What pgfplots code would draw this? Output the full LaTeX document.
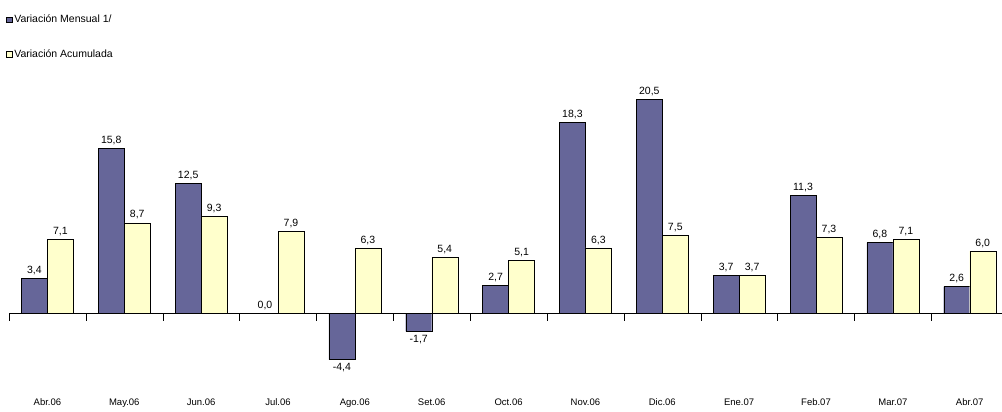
\documentclass[border=0pt]{standalone}
\usepackage{fontspec}
\setmainfont{Liberation Sans}
\usepackage{pgfplots}
\pgfplotsset{compat=1.18}
\definecolor{cpur}{HTML}{666699}
\definecolor{cyel}{HTML}{FFFFCC}
\begin{document}
\begin{tikzpicture}
\useasboundingbox (-9pt,-20pt) rectangle (993pt,392pt);
\begin{axis}[
  at={(0,0)}, anchor=south west,
  width=993pt, height=307pt, scale only axis,
  xmin=-0.5, xmax=12.42, ymin=-7.5, ymax=21.9,
  axis x line*=bottom, axis y line=none,
  x axis line style={draw=none},
  xtick={0,...,12}, major tick length=0pt,
  xticklabels={Abr.06,May.06,Jun.06,Jul.06,Ago.06,Set.06,Oct.06,Nov.06,Dic.06,Ene.07,Feb.07,Mar.07,Abr.07},
  xticklabel style={font=\fontsize{9.5}{10}\selectfont, yshift=-3pt},
  ybar, bar width=26pt,
  clip=false,
  nodes near coords,
  nodes near coords style={font=\fontsize{10.5}{11}\selectfont, /pgf/number format/.cd, fixed, fixed zerofill, precision=1, use comma, assume math mode=true},
  /pgf/number format/assume math mode=true,
  legend cell align=left,
  legend style={draw=none, fill=none, at={(0,1)}, anchor=north west, xshift=-6pt, yshift=74pt, font=\fontsize{10.5}{11}\selectfont, row sep=21pt},
  legend image code/.code={\draw[#1,draw=black] (0cm,-0.1cm) rectangle (0.2cm,0.1cm);},
]
\addplot[fill=cpur, draw=black, bar shift=-13pt] coordinates {(0,3.4)(1,15.8)(2,12.5)(3,0.0)(4,-4.4)(5,-1.7)(6,2.7)(7,18.3)(8,20.5)(9,3.7)(10,11.3)(11,6.8)(12,2.6)};
\addplot[fill=cyel, draw=black, bar shift=13pt] coordinates {(0,7.1)(1,8.7)(2,9.3)(3,7.9)(4,6.3)(5,5.4)(6,5.1)(7,6.3)(8,7.5)(9,3.7)(10,7.3)(11,7.1)(12,6.0)};
\legend{Variación Mensual 1/, Variación Acumulada}
\draw[black] (axis cs:-0.5,0) -- (axis cs:12.42,0);
\pgfplotsinvokeforeach{-0.5,0.5,1.5,2.5,3.5,4.5,5.5,6.5,7.5,8.5,9.5,10.5,11.5}{
  \draw[black] (axis cs:#1,0) -- ++(0pt,-7pt);
}
\end{axis}
\end{tikzpicture}
\end{document}
